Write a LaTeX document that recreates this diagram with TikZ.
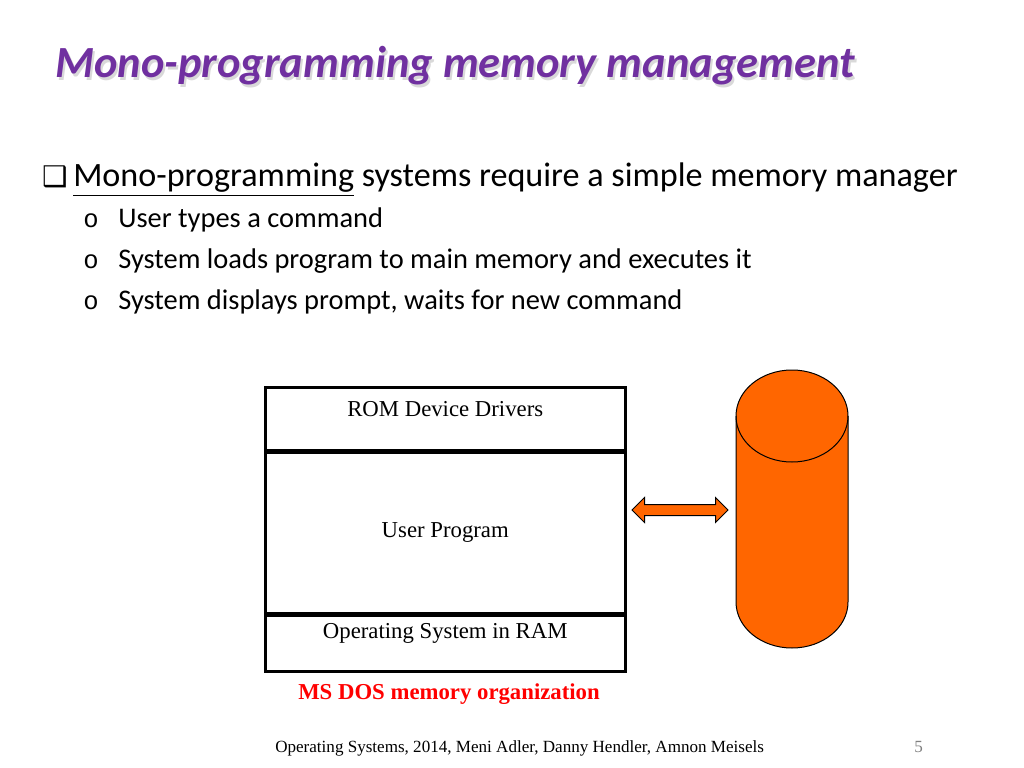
\documentclass[tikz,border=0pt]{standalone}
\usepackage{fontspec}
\setmainfont{Liberation Serif}
\newfontfamily\calibri{Carlito}
\newfontfamily\dejavu{DejaVu Sans}
\newfontfamily\monofont{Liberation Mono}
\usetikzlibrary{positioning,shapes.arrows}
\newcommand{\pxu}{0.703125pt}
\definecolor{titlepurple}{HTML}{7030A0}
\definecolor{diskorange}{HTML}{FF6600}

\begin{document}
\begin{tikzpicture}[x=0.703125pt,y=-0.703125pt,
    mem part/.style={rectangle,draw,line width=2.5*\pxu,minimum width=360*\pxu,
      inner sep=0pt,font=\fontsize{16}{18}\selectfont},
    title text/.style={anchor=base west,inner sep=0pt,
      font=\calibri\bfseries\itshape\fontsize{31.3}{36}\selectfont},
    sub item/.style={anchor=base west,inner sep=0pt,font=\calibri\fontsize{20}{24}\selectfont},
    sub mark/.style={anchor=base west,inner sep=0pt,font=\monofont\fontsize{18}{22}\selectfont}]

\useasboundingbox (0,0) rectangle (1024,768);

% title and bullets
\node[title text,text=black,opacity=0.15] (shadow) at (57,81) {Mono-programming memory management};
\node[title text,text=titlepurple] (title) at (55,78) {Mono-programming memory management};
\node[anchor=base west,inner sep=0pt,font=\dejavu\fontsize{20}{24}\selectfont] (mark) at (42,187) {❑};
\node[anchor=base west,inner sep=0pt,font=\calibri\fontsize{24}{28}\selectfont] (main) at (73,187)
  {\underline{Mono-programming} systems require a simple memory manager};

\node[sub mark] (m1) at (83,228) {o};
\node[sub item] (s1) at (118,228) {User types a command};
\node[sub mark] (m2) at (83,269) {o};
\node[sub item] (s2) at (118,269) {System loads program to main memory and executes it};
\node[sub mark] (m3) at (83,310) {o};
\node[sub item] (s3) at (118,310) {System displays prompt, waits for new command};

% memory layout
\node[mem part,anchor=north west,minimum height=63*\pxu,text depth=20*\pxu] (rom) at (264,386) {ROM Device Drivers};
\node[mem part,minimum height=160*\pxu,below=0pt of rom] (user) {User Program};
\node[mem part,minimum height=56*\pxu,text depth=24*\pxu,below=0pt of user] (os) {Operating System in RAM};
\node[text=red,font=\bfseries\fontsize{16}{18}\selectfont,inner sep=0pt,anchor=base] (caption) at (449,699)
  {MS DOS memory organization};

% disk
\coordinate (disk) at (792,416);
\draw[fill=diskorange,line width=1*\pxu] (736,416) -- (736,602)
  arc[start angle=180,end angle=360,x radius=56*\pxu,y radius=46*\pxu]
  -- (848,416) arc[start angle=0,end angle=180,x radius=56*\pxu,y radius=46*\pxu] -- cycle;
\draw[line width=1*\pxu] (736,416) arc[start angle=180,end angle=360,x radius=56*\pxu,y radius=46*\pxu];

% transfer arrow
\node[double arrow,draw,fill=diskorange,line width=1*\pxu,minimum height=96*\pxu,
  inner xsep=0pt,inner ysep=5*\pxu,double arrow head extend=7*\pxu] (xfer) at (680,510) {};

% footer
\node[anchor=base west,inner sep=0pt,font=\fontsize{12}{14}\selectfont] (foot) at (275,752)
  {Operating Systems, 2014, Meni Adler, Danny Hendler, Amnon Meisels};
\node[anchor=base west,inner sep=0pt,text=gray,font=\fontsize{12}{14}\selectfont] (page) at (914,752) {5};

\end{tikzpicture}
\end{document}
